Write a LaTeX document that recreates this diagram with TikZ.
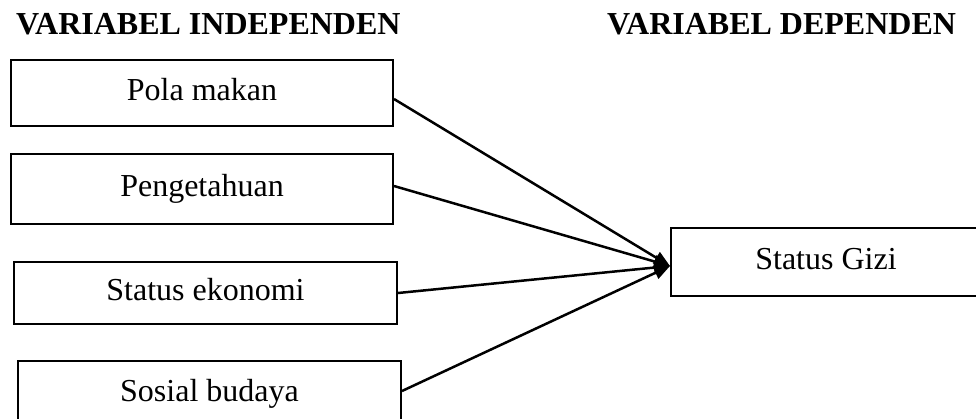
\documentclass[tikz,border=0pt]{standalone}
\usepackage{fontspec}
\setmainfont{Liberation Serif}
\usetikzlibrary{arrows.meta}
\begin{document}
\begin{tikzpicture}[x=1pt,y=-1pt,
  varbox/.style={draw, line width=2pt, rectangle, inner sep=0pt,
    text height=21.8pt, text depth=6.4pt, font=\fontsize{32}{38}\selectfont},
  title/.style={anchor=base west, inner sep=0pt, font=\fontsize{32}{38}\selectfont\bfseries},
  link/.style={line width=2.5pt, -{Triangle[length=16pt,width=13pt]}}]
\clip (0,0) rectangle (976,418);
\fill[white] (0,0) rectangle (976,418);
\node[title] (t1) at (16,34) {VARIABEL INDEPENDEN};
\node[title] (t2) at (607,34) {VARIABEL DEPENDEN};
\node[varbox, minimum width=382pt, minimum height=66pt] (b1) at (202,93) {Pola makan};
\node[varbox, minimum width=382pt, minimum height=70pt] (b2) at (202,189) {Pengetahuan};
\node[varbox, minimum width=383pt, minimum height=62pt] (b3) at (205.5,293) {Status ekonomi};
\node[varbox, minimum width=383pt, minimum height=66pt] (b4) at (209.5,394) {Sosial budaya};
\node[varbox, minimum width=310pt, minimum height=68pt] (sg) at (826,262) {Status Gizi};
\coordinate (tip) at ([yshift=-4pt]sg.west);
\draw[link] ([yshift=-6pt]b1.east) -- (tip);
\draw[link] ([yshift=3pt]b2.east) -- (tip);
\draw[link] (b3.east) -- (tip);
\draw[link] ([yshift=3pt]b4.east) -- (tip);
\end{tikzpicture}
\end{document}
